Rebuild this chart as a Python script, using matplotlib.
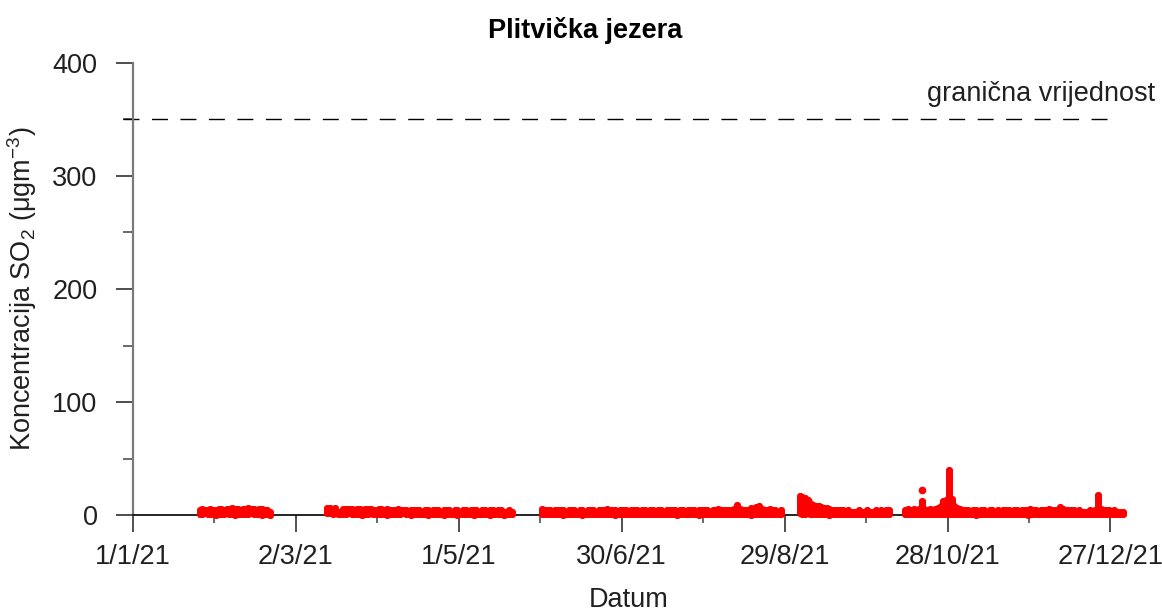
import numpy as np
import pandas as pd
import matplotlib
matplotlib.use('Agg')
import matplotlib.pyplot as plt

plt.rcParams['font.family'] = ['Liberation Sans', 'DejaVu Sans']
plt.rcParams['mathtext.default'] = 'regular'

# dnevni raspon satnih vrijednosti SO2 (ug/m3), ocitano sa slike
a_start = '2021-01-25'
a_hi = [4, 5, 4, 4, 5, 4, 4, 5, 5, 4, 5, 5, 6, 5, 5, 4, 5, 5, 6, 5, 5, 4, 5, 5, 4, 4, 3]
a_lo = [1, 1, 2, 1, 1, 1, 0, 1, 1, 1, 2, 1, 1, 0, 1, 1, 1, 1, 1, 2, 1, 1, 1, 0, 1, 1, 0]

b_start = '2021-03-13'
b_hi = [6, 6, 5, 6, 3, 3, 5, 5, 5, 5,
        4, 5, 5, 4, 5, 5, 5, 4, 4, 5,
        5, 4, 5, 4, 4, 4, 5, 4, 4, 4,
        3, 4, 4, 4, 4, 3, 4, 4, 3, 4,
        4, 4, 3, 4, 4, 4, 3, 4, 4, 3,
        4, 4, 3, 4, 4, 4, 3, 4, 4, 3,
        4, 4, 3, 4, 4, 3, 3, 4, 3]
b_lo = [2, 2, 1, 2, 1, 1, 1, 1, 2, 1,
        1, 1, 1, 0, 1, 1, 2, 1, 1, 1,
        1, 1, 0, 1, 1, 1, 1, 1, 2, 1,
        1, 0, 1, 1, 1, 1, 1, 0, 1, 1,
        1, 1, 1, 0, 1, 1, 1, 1, 0, 1,
        1, 1, 1, 1, 0, 1, 1, 1, 1, 1,
        0, 1, 1, 1, 1, 0, 1, 1, 1]

c_start = '2021-05-31'
c_hi = [5, 4, 4, 4, 3, 4, 4, 4, 4, 3,
        4, 4, 4, 3, 4, 4, 3, 4, 4, 4,
        3, 4, 4, 4, 5, 4, 4, 4, 3, 4,
        4, 4, 3, 4, 4, 4, 3, 4, 4, 3,
        4, 4, 3, 4, 4, 3, 4, 4, 4, 4,
        3, 4, 4, 3, 4, 4, 4, 3, 4, 4,
        4, 4, 3, 4, 4, 5, 4, 4, 4, 4,
        4, 5, 9, 5, 4, 4, 4, 6, 5, 7,
        8, 5, 4, 4, 5, 4, 4, 3, 4]
c_lo = [1, 1, 1, 1, 1, 1, 1, 1, 0, 1,
        1, 1, 1, 1, 1, 0, 1, 1, 1, 1,
        1, 1, 1, 1, 1, 1, 1, 0, 1, 1,
        1, 1, 1, 1, 1, 1, 1, 1, 1, 1,
        1, 1, 1, 1, 1, 1, 1, 1, 1, 1,
        0, 1, 1, 1, 1, 1, 1, 1, 0, 1,
        1, 1, 1, 1, 1, 1, 1, 1, 1, 1,
        1, 1, 1, 1, 1, 1, 1, 0, 1, 1,
        1, 1, 1, 1, 1, 1, 1, 1, 1]

d_start = '2021-09-03'
d_hi = [17, 16, 15, 13, 11, 9, 8, 8, 7, 6,
        6, 5, 4, 4, 4, 4, 4, 3, 4, 3,
        3, 3, 4, 3, 3, 4, 3, 3, 4, 3,
        4, 3, 4, 4]
d_lo = [2, 1, 1, 2, 1, 1, 1, 1, 1, 1,
        1, 0, 1, 1, 1, 1, 1, 1, 1, 1,
        1, 1, 1, 1, 1, 1, 1, 1, 1, 1,
        1, 1, 1, 1]

e_start = '2021-10-12'
e_hi = [4, 5, 4, 5, 4, 5, 12, 5, 4, 5,
        4, 5, 6, 8, 12, 13, 40, 14, 8, 6,
        5, 4, 4, 4, 3, 4, 4, 3, 4, 4,
        3, 4, 4, 3, 4, 3, 4, 4, 4, 3,
        4, 4, 3, 4, 4, 4, 5, 4, 4, 3,
        4, 4, 4, 5, 4, 4, 4, 7, 5, 4,
        4, 4, 4, 3, 4, 3, 3, 3, 4, 3,
        4, 18, 5, 4, 4, 4, 3, 4, 3, 3, 3]
e_lo = [1, 1, 1, 1, 1, 1, 1, 1, 1, 1,
        1, 1, 1, 1, 1, 1, 1, 1, 1, 1,
        1, 1, 1, 1, 1, 1, 0, 1, 1, 1,
        1, 1, 1, 1, 1, 1, 1, 1, 1, 1,
        1, 1, 1, 1, 1, 0, 1, 1, 1, 1,
        1, 1, 1, 1, 1, 1, 1, 1, 1, 1,
        1, 1, 1, 1, 1, 1, 1, 1, 1, 1,
        1, 1, 1, 1, 1, 1, 1, 1, 1, 1, 1]

# izdvojene satne vrijednosti
spike_dates = ['2021-10-18']
spike_vals = [22]

limit_value = 350
limit_text = 'granična vrijednost'

tick_dates = ['2021-01-01', '2021-03-02', '2021-05-01', '2021-06-30',
              '2021-08-29', '2021-10-28', '2021-12-27']
tick_labels = ['1/1/21', '2/3/21', '1/5/21', '30/6/21', '29/8/21', '28/10/21', '27/12/21']
minor_dates = ['2021-01-31', '2021-04-01', '2021-05-31', '2021-07-30',
               '2021-09-28', '2021-11-27']

segments = [(a_start, a_hi, a_lo), (b_start, b_hi, b_lo), (c_start, c_hi, c_lo),
            (d_start, d_hi, d_lo), (e_start, e_hi, e_lo)]

fs = 19.5
fig = plt.figure(figsize=(11.62, 6.13), dpi=100)
ax = fig.add_axes([133 / 1162, 98 / 613, 991 / 1162, 452 / 613])

red = '#ff0000'
for start, hi, lo in segments:
    days = pd.date_range(start, periods=len(hi), freq='D') + pd.Timedelta(hours=12)
    vl = ax.vlines(days, lo, hi, colors=red, linewidth=5, zorder=3, clip_on=False)
    vl.set_capstyle('round')
    ax.plot(days, hi, 'o', color=red, ms=5, mew=0, zorder=3, clip_on=False)
    ax.plot(days, lo, 'o', color=red, ms=5, mew=0, zorder=3, clip_on=False)

ax.plot(pd.to_datetime(spike_dates) + pd.Timedelta(hours=12), spike_vals, 'o',
        color=red, ms=5.5, mew=0, zorder=3, clip_on=False)

# granicna vrijednost
ax.axhline(limit_value, xmin=-0.01, xmax=0.994, color='black', lw=1.0,
           dashes=(11.5, 9.0), clip_on=False)
ax.text(1.031, 373, limit_text, transform=ax.get_yaxis_transform(),
        ha='right', va='center', fontsize=fs, color='#202020')

ax.set_xlim(pd.Timestamp('2021-01-01'), pd.Timestamp('2022-01-01'))
ax.set_ylim(0, 400)

ax.set_xticks(pd.to_datetime(tick_dates))
ax.set_xticklabels(tick_labels)
ax.set_xticks(pd.to_datetime(minor_dates), minor=True)
ax.set_yticks([0, 100, 200, 300, 400])
ax.set_yticks([50, 150, 250, 350], minor=True)

ax.spines['top'].set_visible(False)
ax.spines['right'].set_visible(False)
ax.spines['left'].set_color('#7a7a7a')
ax.spines['left'].set_linewidth(1.6)
ax.spines['bottom'].set_color('black')
ax.spines['bottom'].set_linewidth(1.2)

ax.tick_params(axis='x', which='major', length=12, width=1.4, color='#505050',
               labelsize=fs, pad=9, labelcolor='#202020')
ax.tick_params(axis='x', which='minor', length=6, width=1.2, color='#505050')
ax.tick_params(axis='y', which='major', length=12.5, width=1.2, color='#303030',
               labelsize=fs, pad=13, labelcolor='#202020')
ax.tick_params(axis='y', which='minor', length=7, width=1.2, color='#505050')

ax.set_xlabel('Datum', fontsize=fs, color='#202020', va='center')
ax.xaxis.set_label_coords(0.5, -0.188)
ax.set_ylabel('Koncentracija SO$_2$ ($\\mu$gm$^{-3}$)', fontsize=fs,
              color='#202020', va='center')
ax.yaxis.set_label_coords(-0.112, 0.5)

fig.text(585 / 1162, 1 - 30 / 613, 'Plitvička jezera', ha='center', va='center',
         fontsize=fs, fontweight='bold')

fig.savefig('out.png', dpi=100)
